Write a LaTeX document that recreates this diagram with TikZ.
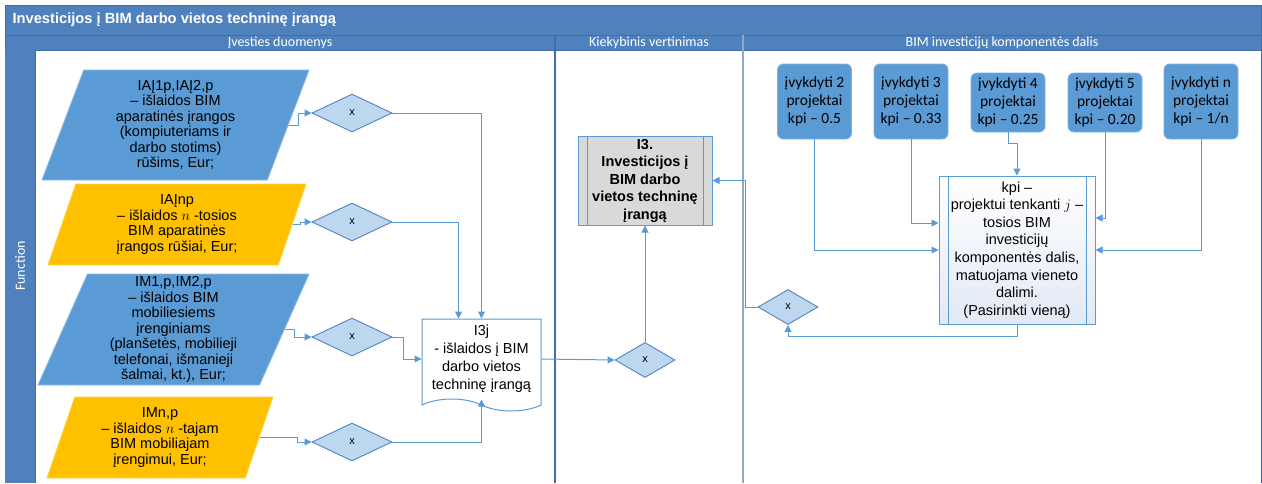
\documentclass[tikz,border=0pt]{standalone}
\usepackage{fontspec}
\setmainfont{Liberation Sans}
\newfontfamily\calibri{Carlito}
\usepackage{tikz}
\usetikzlibrary{shapes.geometric,shapes.symbols,arrows.meta,positioning}

\definecolor{lanehead}{RGB}{79,129,189}
\definecolor{laneline}{RGB}{65,110,170}
\definecolor{inblue}{RGB}{91,155,213}
\definecolor{inorange}{RGB}{255,192,0}
\definecolor{gatefill}{RGB}{189,215,238}
\definecolor{gateline}{RGB}{84,130,190}
\definecolor{flow}{RGB}{91,155,213}
\definecolor{procgrey}{RGB}{217,217,217}
\definecolor{kpishade}{RGB}{226,233,245}

\begin{document}
\begin{tikzpicture}[x=1pt,y=-1pt,>={Triangle[length=7pt,width=7pt]},
	inpara/.style={trapezium,trapezium left angle=65,trapezium right angle=115,trapezium stretches body,inner sep=0pt,align=center,font=\fontsize{14.5}{15.5}\selectfont},
	bluepara/.style={inpara,fill=inblue,draw=inblue!70!white,line width=0.9pt},
	orangepara/.style={inpara,fill=inorange,draw=inorange!70!white,line width=0.9pt},
	gate/.style={diamond,fill=gatefill,draw=gateline,line width=0.9pt,inner sep=0pt,minimum width=80pt,minimum height=38pt,font=\fontsize{11}{12}\selectfont},
	smallgate/.style={gate,minimum width=60pt,minimum height=35pt},
	kbox/.style={rectangle,rounded corners=6pt,fill=inblue,draw=inblue!80!white,line width=0.9pt,minimum width=74pt,align=center,font=\calibri\fontsize{15.5}{18.3}\selectfont},
	procbox/.style={rectangle,draw=flow,line width=1pt,align=center,inner sep=0pt,
		path picture={\draw[flow,line width=1pt] ([xshift=9pt]path picture bounding box.north west) -- ([xshift=9pt]path picture bounding box.south west);
			\draw[flow,line width=1pt] ([xshift=-9pt]path picture bounding box.north east) -- ([xshift=-9pt]path picture bounding box.south east);}},
	flowline/.style={->,draw=flow,line width=1pt},
	lanetitle/.style={text=white,font=\calibri\fontsize{14}{15}\selectfont}]

	% frame and lane headers
	\useasboundingbox (0,0) rectangle (1262,483);
	\fill[lanehead] (5,5) rectangle (1261,50);
	\draw[laneline] (5,5) rectangle (1261,35);
	\draw[laneline] (5,35) -- (5,483);
	\draw[laneline] (5,50) -- (1261,50);
	\draw[laneline] (1261,35) -- (1261,483);
	\fill[lanehead] (5,50) rectangle (35,483);
	\draw[laneline] (35,50) -- (35,483);
	\draw[laneline,line width=1.2pt] (555,35) -- (555,483);
	\draw[laneline!60!white,line width=1.6pt] (743,35) -- (743,483);

	\node [anchor=west,text=white,font=\bfseries\fontsize{14.7}{16}\selectfont] (title) at (9,20) {Investicijos į BIM darbo vietos techninę įrangą};
	\node [lanetitle] (lane1) at (280,42.5) {Įvesties duomenys};
	\node [lanetitle] (lane2) at (649,42.5) {Kiekybinis vertinimas};
	\node [lanetitle] (lane3) at (1002,42.5) {BIM investicijų komponentės dalis};
	\node [lanetitle,rotate=90] (func) at (20,266) {Function};

	% input data
	\node [bluepara,minimum width=267pt,minimum height=110pt] (p1) at (175.5,125) {IAĮ1p,IAĮ2,p\\– išlaidos BIM\\aparatinės įrangos\\(kompiuteriams ir\\darbo stotims)\\rūšims, Eur;};
	\node [orangepara,minimum width=258pt,minimum height=81pt] (p2) at (177,224.5) {IAĮnp\\– išlaidos $n$ -tosios\\BIM aparatinės\\įrangos rūšiai, Eur;};
	\node [bluepara,minimum width=271pt,minimum height=111pt] (p3) at (173.5,329.5) {IM1,p,IM2,p\\– išlaidos BIM\\mobiliesiems\\įrenginiams\\(planšetės, mobilieji\\telefonai, išmanieji\\šalmai, kt.), Eur;};
	\node [orangepara,minimum width=226pt,minimum height=81pt] (p4) at (160,437.5) {IMn,p\\– išlaidos $n$ -tajam\\BIM mobiliajam\\įrengimui, Eur;};

	\node [gate] (x1) at (352,113) {x};
	\node [gate] (x2) at (352,222) {x};
	\node [gate] (x3) at (352,337) {x};
	\node [gate] (x4) at (352,442) {x};

	\node [tape,tape bend top=none,tape bend bottom=out and in,tape bend height=12pt,draw=flow,line width=1pt,fill=white,minimum width=119pt,minimum height=92pt,align=center,inner sep=0pt,font=\fontsize{14.5}{18}\selectfont] (doc) at (481.5,359) {I3j\\- išlaidos į BIM\\darbo vietos\\techninę įrangą};

	% quantitative part
	\node [smallgate] (x5) at (645,360) {x};
	\node [procbox,fill=procgrey,minimum width=134pt,minimum height=89pt,font=\bfseries\fontsize{14.5}{17.5}\selectfont] (i3) at (645,180.5) {I3.\\Investicijos į\\BIM darbo\\vietos techninę\\įrangą};

	% component share
	\node [kbox,minimum height=75pt] (k2) at (814.5,101.5) {įvykdyti 2\\projektai\\kpi – 0.5};
	\node [kbox,minimum height=75pt] (k3) at (911,101.5) {įvykdyti 3\\projektai\\kpi – 0.33};
	\node [kbox,minimum height=59pt] (k4) at (1008,102.5) {įvykdyti 4\\projektai\\kpi – 0.25};
	\node [kbox,minimum height=59pt] (k5) at (1105,102.5) {įvykdyti 5\\projektai\\kpi – 0.20};
	\node [kbox,minimum height=75pt] (kn) at (1201,101.5) {įvykdyti n\\projektai\\kpi – 1/n};

	\node [procbox,top color=white,bottom color=kpishade,minimum width=156pt,minimum height=148pt,font=\fontsize{14.5}{17.6}\selectfont] (kpi) at (1017,250) {kpi –\\projektui tenkanti $j$ –\\tosios BIM\\investicijų\\komponentės dalis,\\matuojama vieneto\\dalimi.\\(Pasirinkti vieną)};
	\node [smallgate] (x6) at (788,307) {x};

	% flows
	\draw [flowline] (p1.east) -- ++(10,0) |- (x1.west);
	\draw [flowline] (p2.east) -- ++(8,0) |- (x2.west);
	\draw [flowline] (p3.east) -- ++(10,0) |- (x3.west);
	\draw [flowline] (p4.east) -- ++(38,0) |- (x4.west);

	\draw [flowline] (x1.east) -| (doc.north);
	\draw [flowline] (x2.east) -| ([xshift=-23pt]doc.north);
	\draw [flowline] (x3.east) -- ++(11,0) |- (doc.west);
	\draw [flowline] (x4.east) -| (doc.south);

	\draw [flowline] (doc.east) -- (x5.west);
	\draw [flowline] (x5.north) -- (i3.south);

	\draw [flowline] (k2.south) |- (kpi.west);
	\draw [flowline] (k3.south) |- ([yshift=27pt]kpi.west);
	\draw [flowline] (k4.south) -- ++(0,11) -| (kpi.north);
	\draw [flowline] (k5.south) |- ([yshift=32pt]kpi.east);
	\draw [flowline] (kn.south) |- (kpi.east);

	\draw [flowline] (kpi.south) -- ++(0,12) -| (x6.south);
	\draw [flowline] (x6.west) -- ++(-12,0) |- (i3.east);
\end{tikzpicture}
\end{document}
